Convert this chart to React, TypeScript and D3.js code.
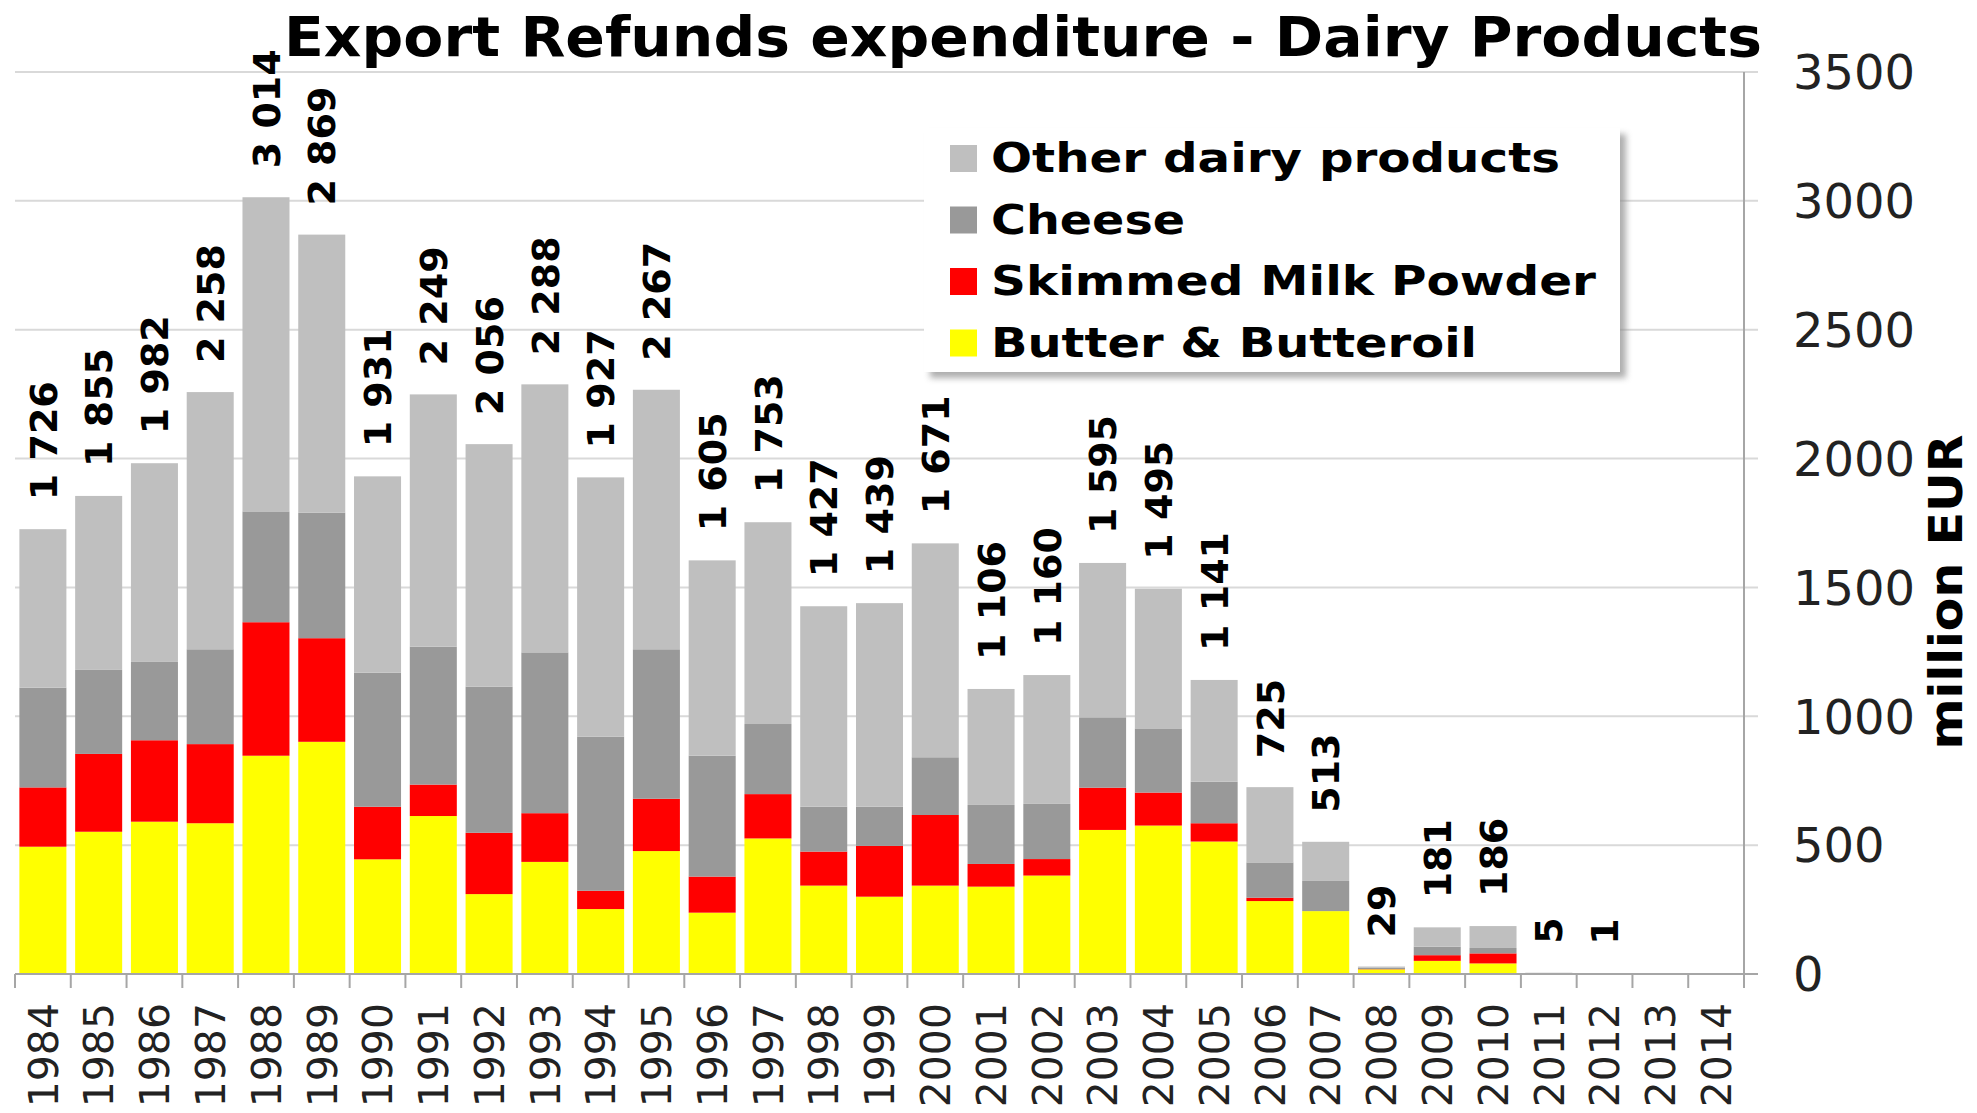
import React from 'react';
import * as d3 from 'd3';

const years = ['1984','1985','1986','1987','1988','1989','1990','1991','1992','1993','1994','1995','1996','1997','1998','1999','2000','2001','2002','2003','2004','2005','2006','2007','2008','2009','2010','2011','2012','2013','2014'];

// million EUR per product
const butter = [494, 552, 591, 585, 847, 901, 445, 613, 310, 435, 252, 477, 238, 526, 343, 300, 343, 339, 382, 559, 576, 514, 283, 244, 18, 51, 41, 0, 0, 0, 0];
const smp = [230, 302, 316, 307, 518, 402, 204, 122, 238, 189, 71, 203, 140, 172, 132, 197, 274, 88, 64, 164, 128, 71, 13, 0, 1, 22, 39, 0, 0, 0, 0];
const cheese = [387, 326, 304, 368, 430, 487, 520, 535, 567, 624, 598, 580, 469, 272, 174, 152, 224, 229, 214, 273, 249, 161, 137, 117, 6, 33, 21, 4, 0, 0, 0];
const other = [615, 675, 771, 998, 1219, 1079, 762, 979, 941, 1040, 1006, 1007, 758, 783, 778, 790, 830, 450, 500, 599, 542, 395, 292, 152, 4, 75, 85, 1, 1, 0, 0];

const seriesKeys = ['butter', 'smp', 'cheese', 'other'];
const seriesNames = {
  other: 'Other dairy products',
  cheese: 'Cheese',
  smp: 'Skimmed Milk Powder',
  butter: 'Butter & Butteroil',
};
const colors = { butter: '#FFFF00', smp: '#FF0000', cheese: '#999999', other: '#BFBFBF' };
const legendOrder = ['other', 'cheese', 'smp', 'butter'];
const legendWidths = { other: 569, cheese: 194, smp: 605, butter: 486 };

const yTicks = [0, 500, 1000, 1500, 2000, 2500, 3000, 3500];

const W = 1977;
const H = 1113;
const FONT = '"DejaVu Sans", Verdana, sans-serif';

const fmt = d3.formatLocale({ decimal: '.', thousands: ' ', grouping: [3], currency: ['', ''] }).format(',d');

export default function App() {
  const rows = years.map((yr, i) => ({
    year: yr,
    butter: butter[i],
    smp: smp[i],
    cheese: cheese[i],
    other: other[i],
  }));
  const totals = rows.map(r => r.butter + r.smp + r.cheese + r.other);

  const x = d3.scaleBand().domain(years).range([15, 1744]).paddingInner(0.157).paddingOuter(0.0785);
  const y = d3.scaleLinear().domain([0, 3500]).range([974, 72]);
  const stacked = d3.stack().keys(seriesKeys)(rows);
  const step = x.step();
  const x0 = x.range()[0];
  const x1 = x.range()[1];

  return (
    <>
      <style>{`body{margin:0}`}</style>
      <svg width={W} height={H} style={{ display: 'block', background: '#fff' }}>
        <defs>
          <filter id="legShadow" x="-10%" y="-10%" width="130%" height="140%">
            <feGaussianBlur stdDeviation="3" />
          </filter>
        </defs>

        {/* gridlines */}
        {yTicks.map(t => (
          <line key={'g' + t} x1={x0} x2={1758} y1={y(t)} y2={y(t)}
            stroke={t === 0 ? '#A6A6A6' : '#D9D9D9'} strokeWidth={2} />
        ))}

        {/* stacked bars */}
        {stacked.map(s => (
          <g key={s.key} fill={colors[s.key]}>
            {s.map((d, i) => (
              d[1] - d[0] > 0 ? (
                <rect key={i} x={x(years[i])} width={x.bandwidth()}
                  y={y(d[1])} height={y(d[0]) - y(d[1])} />
              ) : null
            ))}
          </g>
        ))}

        {/* axes */}
        <line x1={x1} x2={x1} y1={y(3500)} y2={988} stroke="#A6A6A6" strokeWidth={2} />
        <line x1={x0} x2={x1} y1={y(0)} y2={y(0)} stroke="#A6A6A6" strokeWidth={2} />
        {d3.range(years.length + 1).map(i => (
          <line key={'t' + i} x1={x0 + i * step} x2={x0 + i * step} y1={y(0)} y2={988}
            stroke="#A6A6A6" strokeWidth={2} />
        ))}

        {/* y tick labels */}
        {yTicks.map(t => (
          <text key={'yl' + t} x={1793} y={y(t)} dy="0.36em" fontFamily={FONT} fontSize={48} fill="#222">
            {t}
          </text>
        ))}

        {/* year labels */}
        {years.map(yr => {
          const cx = x(yr) + x.bandwidth() / 2;
          return (
            <text key={'x' + yr} transform={`translate(${cx},1003) rotate(-90)`} textAnchor="end"
              dy="0.36em" fontFamily={FONT} fontSize={41} fill="#222">
              {yr}
            </text>
          );
        })}

        {/* totals */}
        {years.map((yr, i) => {
          if (totals[i] <= 0) return null;
          const cx = x(yr) + x.bandwidth() / 2;
          return (
            <text key={'v' + yr} transform={`translate(${cx},${y(totals[i]) - 29}) rotate(-90)`}
              dy="0.36em" fontFamily={FONT} fontSize={38} fontWeight="bold" fill="#000">
              {fmt(totals[i])}
            </text>
          );
        })}

        {/* title */}
        <text x={284} y={56} fontFamily={FONT} fontSize={56} fontWeight="bold" fill="#000"
          textLength={1478} lengthAdjust="spacingAndGlyphs">
          Export Refunds expenditure - Dairy Products
        </text>

        {/* y axis title */}
        <text transform="translate(1962,592) rotate(-90)" textAnchor="middle" fontFamily={FONT}
          fontSize={46} fontWeight="bold" fill="#000" textLength={315} lengthAdjust="spacingAndGlyphs">
          million EUR
        </text>

        {/* legend */}
        <rect x={930} y={134} width={696} height={244} fill="#8c8c8c" opacity={0.7} filter="url(#legShadow)" />
        <rect x={924} y={128} width={696} height={244} fill="#fff" />
        {legendOrder.map((k, i) => {
          const sy = 145 + i * 61.5;
          return (
            <g key={'lg' + k}>
              <rect x={950} y={sy} width={27} height={27} fill={colors[k]} />
              <text x={991} y={sy + 27} fontFamily={FONT} fontSize={41} fontWeight="bold" fill="#000"
                textLength={legendWidths[k]} lengthAdjust="spacingAndGlyphs">
                {seriesNames[k]}
              </text>
            </g>
          );
        })}
      </svg>
    </>
  );
}
